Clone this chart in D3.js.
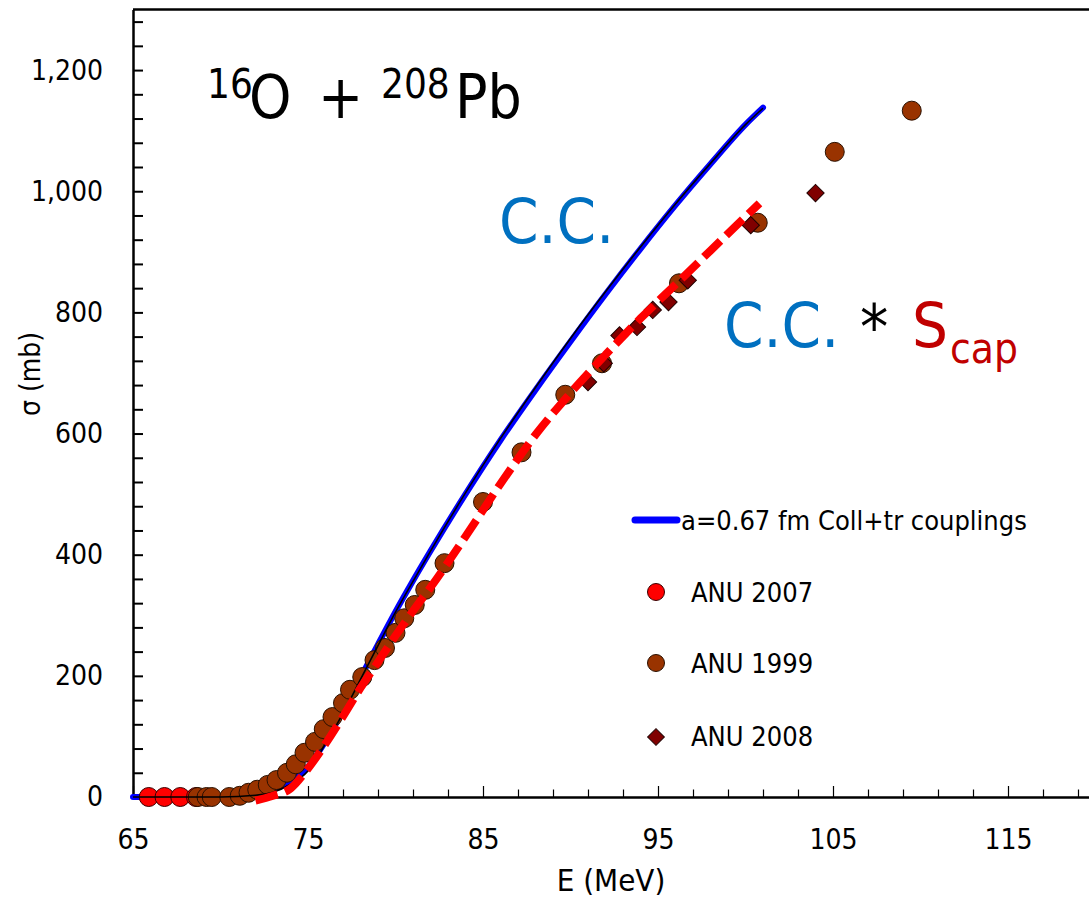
<!DOCTYPE html>
<html lang="en">
<head>
<meta charset="utf-8">
<title>16O + 208Pb fusion</title>
<script src="https://cdn.jsdelivr.net/npm/d3@7"></script>
<style>
  body { margin: 0; background: #fff; }
  svg text { font-family: "DejaVu Sans Condensed", "DejaVu Sans", sans-serif; white-space: pre; }
</style>
</head>
<body>
<div id="chart"></div>
<script>
// coupled-channels curve (blue), its thin black companion and C.C.*Scap (red dashed)
var ccE     = [65, 70, 72, 73, 74, 75, 76, 77, 78, 79, 80, 81, 82, 84, 86, 88, 90, 92, 94, 96, 98, 100, 101];
var ccSigma = [0, 1, 5, 12, 26, 50, 92, 142, 197, 252, 306, 357, 406, 500, 589, 672, 752, 830, 905, 977, 1045, 1110, 1138];
var blackSigma = [0, 0, 3, 8, 21, 43, 88, 138, 194, 250, 305, 356, 406, 502, 592, 676, 757, 834, 908, 979, 1046, 1110, 1137];
var scapE     = [72, 73, 74, 75, 76, 77, 78, 79, 80, 81, 82, 84, 86, 88, 90, 92, 94, 96, 98, 100, 100.8];
var scapSigma = [-6, 2, 14, 47, 88, 133, 180, 223, 266, 307, 346, 430, 517, 598, 667, 730, 790, 846, 902, 958, 980];

// measurements
var anu2007E = [65.9, 66.8, 67.7, 68.6];
var anu2007S = [0, 0, 0, 0];
var anu1999E = [68.7, 69.2, 69.5, 70.5, 71.1, 71.6, 72.1, 72.7, 73.2, 73.8, 74.3, 74.8, 75.4, 75.9, 76.4, 77.0, 77.4, 78.1, 78.8, 79.4, 80.0, 80.5, 81.1, 81.7, 82.8, 85.0, 87.2, 89.7, 91.8, 96.2, 100.7, 105.1, 109.5];
var anu1999S = [0, 0, 0, 0, 2, 7, 12, 20, 28, 40, 54, 73, 91, 112, 132, 155, 177, 198, 226, 246, 271, 295, 317, 342, 386, 487, 569, 664, 716, 848, 948, 1065, 1133];
var anu2008E = [91.0, 91.9, 92.8, 93.8, 94.7, 95.6, 96.7, 100.3, 104.0];
var anu2008S = [685, 716, 762, 776, 804, 817, 853, 944, 997];

var xTickLabels = [65, 75, 85, 95, 105, 115];
var yTickLabels = [0, 200, 400, 600, 800, 1000, 1200];
var legendLabels = ["a=0.67 fm Coll+tr couplings", "ANU 2007", "ANU 1999", "ANU 2008"];

var w = 1089, h = 897;
var svg = d3.select("#chart").append("svg").attr("width", w).attr("height", h);

var x = d3.scaleLinear().domain([65, 120]).range([133, 1095.5]);
var y = d3.scaleLinear().domain([0, 1300]).range([797, 9.5]);

function pts(xs, ys) { return xs.map(function(d, i){ return [d, ys[i]]; }); }
var line = d3.line()
  .x(function(d){ return x(d[0]); })
  .y(function(d){ return y(d[1]); })
  .curve(d3.curveMonotoneX);

// axes
var yAxis = d3.axisLeft(y)
  .tickValues(d3.range(0, 1301, 40))
  .tickSize(-10).tickSizeOuter(0).tickPadding(30)
  .tickFormat(function(d){ return yTickLabels.indexOf(d) >= 0 ? d3.format(",")(d) : ""; });
var gy = svg.append("g").attr("transform", "translate(133,0)").call(yAxis);

var xAxis = d3.axisBottom(x)
  .tickValues(d3.range(65, 121, 2))
  .tickSize(-7.5).tickSizeOuter(0).tickPadding(32)
  .tickFormat(function(d){ return xTickLabels.indexOf(d) >= 0 ? d : ""; });
var gx = svg.append("g").attr("transform", "translate(0,797)").call(xAxis);
gx.selectAll(".tick line").attr("y2", function(d){ return xTickLabels.indexOf(d) >= 0 ? -11 : -7.5; })
  .attr("stroke-width", 1.2);
gy.selectAll(".tick line").attr("stroke-width", 2);

[gx, gy].forEach(function(g){
  g.select(".domain").attr("stroke", "#000").attr("stroke-width", 2.5);
  g.selectAll(".tick text").attr("font-size", 28).attr("fill", "#000")
   .attr("font-family", "'DejaVu Sans Condensed', 'DejaVu Sans', sans-serif");
});

// top frame
svg.append("line").attr("x1", 133).attr("x2", w).attr("y1", y(1300)).attr("y2", y(1300))
  .attr("stroke", "#000").attr("stroke-width", 2.5);

// blue C.C. curve underneath the markers
svg.append("path").datum(pts(ccE, ccSigma)).attr("d", line)
  .attr("fill", "none").attr("stroke", "#0000ff").attr("stroke-width", 6).attr("stroke-linecap", "round");

// markers
svg.selectAll("circle.a2007").data(pts(anu2007E, anu2007S)).enter().append("circle")
  .attr("cx", function(d){ return x(d[0]); }).attr("cy", function(d){ return y(d[1]); })
  .attr("r", 9.5).attr("fill", "#ff0000").attr("stroke", "#3a0000").attr("stroke-width", 1);
svg.selectAll("circle.a1999").data(pts(anu1999E, anu1999S)).enter().append("circle")
  .attr("cx", function(d){ return x(d[0]); }).attr("cy", function(d){ return y(d[1]); })
  .attr("r", 9.5).attr("fill", "#993300").attr("stroke", "#2a1000").attr("stroke-width", 1);
var diamond = d3.symbol().type(d3.symbolSquare).size(150);
svg.selectAll("path.a2008").data(pts(anu2008E, anu2008S)).enter().append("path")
  .attr("d", diamond)
  .attr("transform", function(d){ return "translate(" + x(d[0]) + "," + y(d[1]) + ") rotate(45)"; })
  .attr("fill", "#800000").attr("stroke", "#200000").attr("stroke-width", 1);

// thin black curve and red dashed C.C.*Scap on top
svg.append("path").datum(pts(ccE, blackSigma)).attr("d", line)
  .attr("fill", "none").attr("stroke", "#000").attr("stroke-width", 1.6);
svg.append("path").datum(pts(scapE, scapSigma)).attr("d", line)
  .attr("fill", "none").attr("stroke", "#ff0000").attr("stroke-width", 8)
  .attr("stroke-dasharray", "23,8");

// title 16O + 208Pb
var title = svg.append("g");
title.append("text").attr("x", 207).attr("y", 98).attr("font-size", 40).text("16");
title.append("text").attr("x", 249).attr("y", 118).attr("font-size", 60).text("O");
title.append("text").attr("x", 318).attr("y", 118).attr("font-size", 60).text("+");
title.append("text").attr("x", 381).attr("y", 98).attr("font-size", 40).text("208");
title.append("text").attr("x", 455).attr("y", 118).attr("font-size", 60).text("Pb");

// annotations
svg.append("text").attr("x", 499).attr("y", 243).attr("font-size", 63).attr("fill", "#0070c0").text("C.C.");
svg.append("text").attr("x", 724).attr("y", 347).attr("font-size", 63).attr("fill", "#0070c0").text("C.C.");
svg.append("text").attr("x", 860).attr("y", 349).attr("font-size", 63).attr("fill", "#000").text("*");
svg.append("text").attr("x", 912).attr("y", 347).attr("font-size", 63).attr("fill", "#c00000").text("S");
svg.append("text").attr("x", 950).attr("y", 363).attr("font-size", 42).attr("fill", "#c00000").text("cap");

// axis titles
svg.append("text").attr("x", 611).attr("y", 891).attr("text-anchor", "middle").attr("font-size", 31).text("E (MeV)");
svg.append("text").attr("transform", "translate(40,374) rotate(-90)").attr("text-anchor", "middle")
  .attr("font-size", 28).text("σ (mb)");

// legend
var lg = svg.append("g");
lg.append("line").attr("x1", 635).attr("x2", 677).attr("y1", 520).attr("y2", 520)
  .attr("stroke", "#0000ff").attr("stroke-width", 7).attr("stroke-linecap", "round");
lg.append("text").attr("x", 681).attr("y", 530).attr("font-size", 27).text(legendLabels[0]);
lg.append("circle").attr("cx", 656).attr("cy", 592).attr("r", 8.5).attr("fill", "#ff0000").attr("stroke", "#3a0000");
lg.append("text").attr("x", 691).attr("y", 602).attr("font-size", 27).text(legendLabels[1]);
lg.append("circle").attr("cx", 656).attr("cy", 663).attr("r", 8.5).attr("fill", "#993300").attr("stroke", "#2a1000");
lg.append("text").attr("x", 691).attr("y", 673).attr("font-size", 27).text(legendLabels[2]);
lg.append("path").attr("d", d3.symbol().type(d3.symbolSquare).size(140))
  .attr("transform", "translate(656,737) rotate(45)").attr("fill", "#800000").attr("stroke", "#200000");
lg.append("text").attr("x", 691).attr("y", 746).attr("font-size", 27).text(legendLabels[3]);
</script>
</body>
</html>
